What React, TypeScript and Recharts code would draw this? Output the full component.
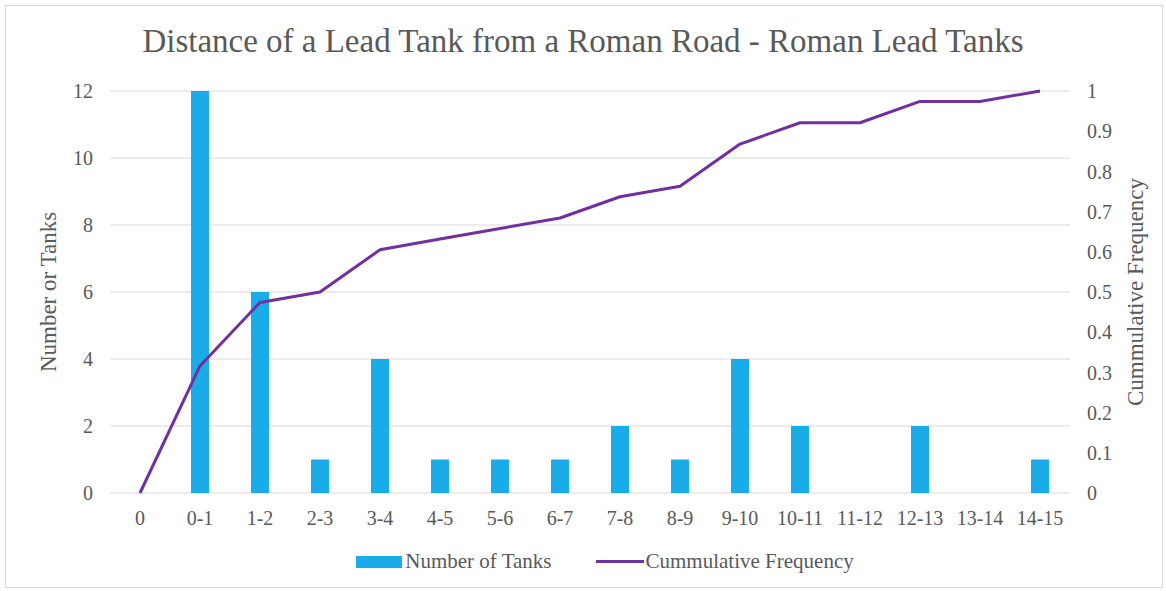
import { Bar, CartesianGrid, ComposedChart, Line, XAxis, YAxis } from 'recharts';

const distanceBands = ['0', '0-1', '1-2', '2-3', '3-4', '4-5', '5-6', '6-7', '7-8', '8-9', '9-10', '10-11', '11-12', '12-13', '13-14', '14-15'];
const tankCounts = [0, 12, 6, 1, 4, 1, 1, 1, 2, 1, 4, 2, 0, 2, 0, 1];
const cumulativeFreq = [0, 0.316, 0.474, 0.5, 0.605, 0.632, 0.658, 0.684, 0.737, 0.763, 0.868, 0.921, 0.921, 0.974, 0.974, 1];
const countTicks = [0, 2, 4, 6, 8, 10, 12];
const freqTicks = [0, 0.1, 0.2, 0.3, 0.4, 0.5, 0.6, 0.7, 0.8, 0.9, 1];

const rows = distanceBands.map((band, i) => ({
  band,
  tanks: tankCounts[i],
  cumulative: cumulativeFreq[i],
}));

const FONT = "'Liberation Serif', 'DejaVu Serif', serif";
const GREY = '#595959';
const BLUE = '#1aace8';
const PURPLE = '#7030a0';

const tickStyle = { fontFamily: FONT, fontSize: 20, fill: GREY };
const axisLabelStyle = { fontFamily: FONT, fontSize: 23, fill: GREY, textAnchor: 'middle' as const };

export default function App() {
  return (
    <div style={{ position: 'absolute', left: 0, top: 0, width: 1166, height: 591, background: '#fff' }}>
      <div
        style={{
          position: 'absolute',
          left: 5,
          top: 5,
          width: 1158,
          height: 583,
          border: '1px solid #d9d9d9',
          boxSizing: 'border-box',
        }}
      />
      <div
        style={{
          position: 'absolute',
          left: 0,
          width: 1166,
          top: 23,
          textAlign: 'center',
          fontFamily: FONT,
          fontSize: 33,
          color: GREY,
        }}
      >
        Distance of a Lead Tank from a Roman Road - Roman Lead Tanks
      </div>
      <ComposedChart
        width={1166}
        height={591}
        data={rows}
        margin={{ top: 91, right: 36, left: 50, bottom: 58 }}
        style={{ position: 'absolute', left: 0, top: 0 }}
      >
        <CartesianGrid yAxisId="count" vertical={false} stroke="#d9d9d9" />
        <XAxis
          dataKey="band"
          axisLine={false}
          tickLine={false}
          tickSize={0}
          tickMargin={18}
          height={40}
          interval={0}
          tick={tickStyle}
        />
        <YAxis
          yAxisId="count"
          orientation="left"
          width={60}
          domain={[0, 12]}
          ticks={countTicks}
          axisLine={false}
          tickLine={false}
          tickSize={0}
          tickMargin={17}
          tick={tickStyle}
          label={{
            value: 'Number or Tanks',
            angle: -90,
            position: 'insideLeft',
            offset: -2,
            style: axisLabelStyle,
          }}
        />
        <YAxis
          yAxisId="freq"
          orientation="right"
          width={60}
          domain={[0, 1]}
          ticks={freqTicks}
          axisLine={false}
          tickLine={false}
          tickSize={0}
          tickMargin={17}
          tick={tickStyle}
          label={{
            value: 'Cummulative Frequency',
            angle: -90,
            position: 'insideRight',
            offset: -5,
            style: axisLabelStyle,
          }}
        />
        <Bar yAxisId="count" dataKey="tanks" fill={BLUE} barSize={18} isAnimationActive={false} />
        <Line
          yAxisId="freq"
          type="linear"
          dataKey="cumulative"
          stroke={PURPLE}
          strokeWidth={3}
          strokeLinejoin="round"
          dot={false}
          isAnimationActive={false}
        />
      </ComposedChart>
      <div
        style={{
          position: 'absolute',
          top: 549,
          left: 22,
          width: 1166,
          display: 'flex',
          justifyContent: 'center',
          alignItems: 'center',
          fontFamily: FONT,
          fontSize: 21,
          color: GREY,
        }}
      >
        <span style={{ display: 'inline-block', width: 46, height: 12, background: BLUE, marginRight: 3 }} />
        <span>Number of Tanks</span>
        <span style={{ display: 'inline-block', width: 48, height: 3, background: PURPLE, marginLeft: 44, marginRight: 2 }} />
        <span>Cummulative Frequency</span>
      </div>
    </div>
  );
}
